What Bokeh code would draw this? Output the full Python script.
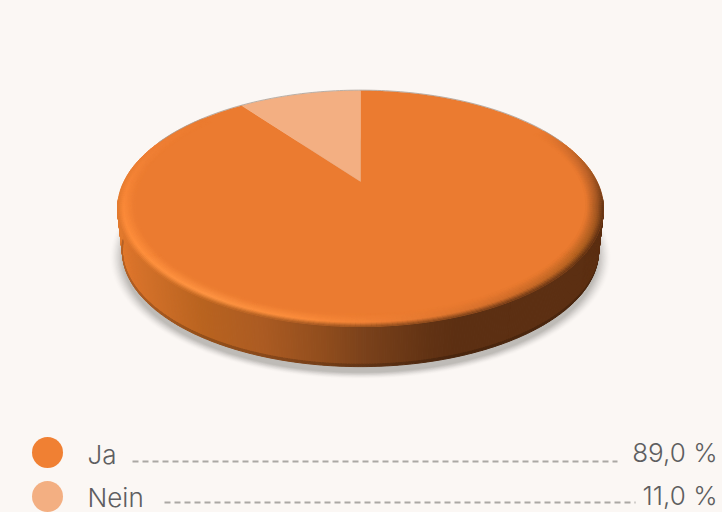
import numpy as np
from bokeh.plotting import figure
from bokeh.embed import file_html
from bokeh.resources import INLINE
from bokeh.core.properties import value

categories = ["Ja", "Nein"]
shares = [89.0, 11.0]
share_labels = ["89,0 %", "11,0 %"]
face_colors = ["#EB7B30", "#F3AF82"]
legend_colors = ["#F08033", "#F3AF82"]
BG = "#FBF7F4"
FONT = "'Inter Light', Inter"

def h2r(h):
    return np.array([int(h[i:i+2], 16) for i in (1, 3, 5)], float)
def r2h(c):
    return "#%02x%02x%02x" % tuple(int(round(max(0, min(255, v)))) for v in c)
def ramp(t, pts, cols):
    arr = np.array([h2r(c) for c in cols])
    return np.array([np.interp(t, pts, arr[:, k]) for k in range(3)])

CX, CY, A, B, K = 360.0, 181.0, 111.8, 236.5, 0.229
WARP = 0.916  # the 3D view foreshortens angles near the back of the disc
def proj(phi, s=1.0):
    u, v = s*np.sin(phi), s*np.cos(phi)
    d = 1 + K*v
    return CX + B*u/d, CY - A*v/d
def warp(phi):
    return 2*np.arctan2(WARP*np.sin(phi/2), np.cos(phi/2))
def lower(x, y, f=0.98, dy=43.0):
    return CX + (x-CX)*f, CY + (y-CY)*f + dy

p = figure(width=722, height=512, x_range=(0, 722), y_range=(512, 0),
           output_backend="svg", toolbar_location=None, background_fill_color=BG,
           border_fill_color=BG, min_border=0, outline_line_color=None)
p.axis.visible = False
p.grid.visible = False

full = np.radians(np.linspace(0, 360, 361))
# soft shadow
bx, by = lower(*proj(full))
for g, al in zip(np.linspace(1.05, 1.0, 11), [0.02, 0.025, 0.03, 0.04, 0.05, 0.06, 0.07, 0.08, 0.09, 0.1, 0.11]):
    p.patch(CX + (bx-CX)*g, (by+5-250)*g + 250 + 1, fill_color="#8a8580", fill_alpha=al, line_color=None)

# side wall, coloured along x
side_x = [117, 130, 200, 260, 330, 360, 430, 455, 603]
side_c = ["#E27A2E", "#D9732B", "#B9631F", "#AC5B22", "#8D4B1C", "#7C421B", "#613213", "#5C2F12", "#5C2F12"]
xs, ys, cs = [], [], []
phis = np.radians(np.arange(99, 261.5, 0.5))
for a, b in zip(phis[:-1], phis[1:]):
    x1, y1 = proj(np.array([a, b]))
    x2, y2 = lower(x1, y1)
    col = ramp((x1[0]+x1[1])/2, side_x, side_c)
    mx, my = x2 + (x1-x2)*0.06, y2 + (y1-y2)*0.06
    xs.append([x1[0], x1[1], mx[1], mx[0]]); ys.append([y1[0], y1[1], my[1], my[0]]); cs.append(r2h(col))
    xs.append([mx[0], mx[1], x2[1], x2[0]]); ys.append([my[0], my[1], y2[1], y2[0]]); cs.append(r2h(col*0.8))
p.patches(xs, ys, fill_color=cs, line_color=cs, line_width=1.0)

# pie faces, from the shares
start = 0.0
for sh, col in zip(shares, face_colors):
    ang = np.radians(np.linspace(start, start + sh*3.6, max(8, int(sh*3.6))))
    x, y = proj(warp(ang))
    p.patch(np.r_[CX, x], np.r_[CY, y], fill_color=col, line_color=col, line_width=0.4)
    start += sh*3.6

# rim bevel
phi_pts = [60, 85, 103, 125, 150, 175, 190, 212, 240, 262, 285, 310]
F = face_colors[0]
peak_c = [F, "#C0642A", "#9A5220", "#B0601F", "#D06D2A", "#EE7F34", "#FB8C3B", "#FF9543", "#FF8F3C", "#F98838", "#F08035", F]
edge_c = [F, "#A05520", "#5C2F12", "#5C2F12", "#6A3716", "#8A4A1C", "#A05621", "#B9631F", "#D9732B", "#E27A2E", "#EE7E33", F]
bands = np.linspace(1.0, 0.93, 13)
xs, ys, cs = [], [], []
phis = np.arange(60, 311, 1.0)
for a, b in zip(phis[:-1], phis[1:]):
    m = (a+b)/2
    pk = ramp(m, phi_pts, peak_c); ed = ramp(m, phi_pts, edge_c); fc = h2r(F)
    ra = np.radians([a, b])
    for j, (s1, s2) in enumerate(zip(bands[:-1], bands[1:])):
        t = (j+0.5)/12
        c = ed + (pk-ed)*t/0.35 if t < 0.35 else pk + (fc-pk)*(t-0.35)/0.65
        x1, y1 = proj(ra, s1); x2, y2 = proj(ra, s2)
        xs.append([x1[0], x1[1], x2[1], x2[0]]); ys.append([y1[0], y1[1], y2[1], y2[0]]); cs.append(r2h(c))
p.patches(xs, ys, fill_color=cs, line_color=cs, line_width=0.8)

# thin grey edge along the back of the disc
back = np.radians(np.linspace(-68, 68, 120))
x, y = proj(back)
p.line(x, y-0.4, line_color="#A8A29C", line_width=0.8)

# legend
row_y = [452, 496]
text_y = [454, 497]
dash_y = [461, 502]
dash_x0 = [132, 164]
dash_x1 = [617, 635]
for i, c in enumerate(categories):
    p.circle([47], [row_y[i]], radius=15.5, fill_color=legend_colors[i], line_color=None)
    p.text([87], [text_y[i]], text=[c], text_font=value(FONT), text_font_size="26px",
           text_color="#5E5E60", text_align="left", text_baseline="middle")
    p.text([717], [text_y[i]-2], text=[share_labels[i]], text_font=value(FONT),
           text_font_size="26px", text_color="#5E5E60", text_align="right", text_baseline="middle")
    p.line([dash_x0[i], dash_x1[i]], [dash_y[i], dash_y[i]], line_color="#ABA8A4",
           line_width=2, line_dash="6 4")

html = file_html(p, INLINE)
html = html.replace("<head>", "<head><style>html,body{background:%s;overflow:hidden}</style>" % BG, 1)
open("out.html", "w").write(html)
